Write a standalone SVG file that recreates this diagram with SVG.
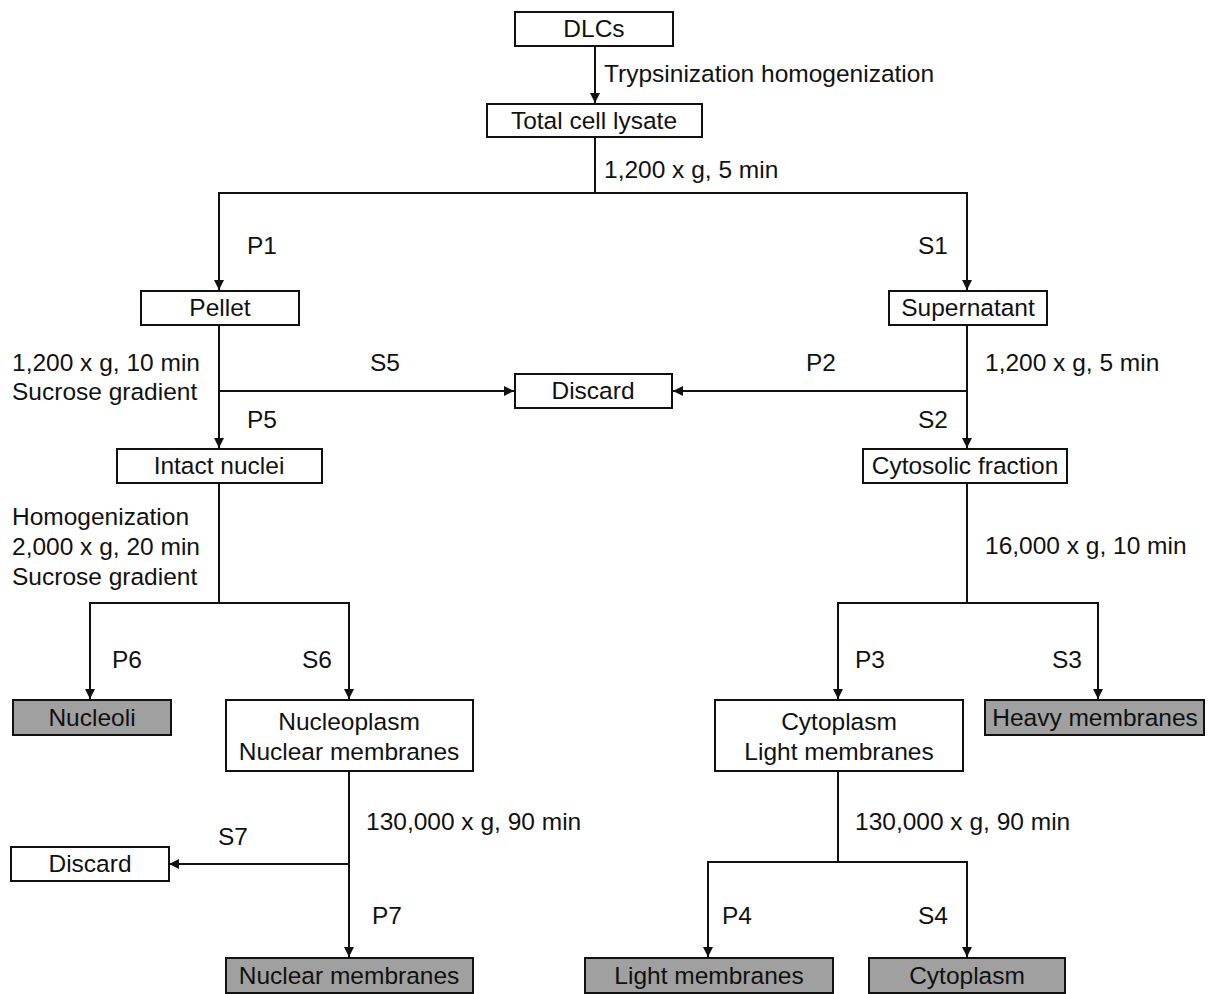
<svg xmlns="http://www.w3.org/2000/svg" width="1208" height="994" viewBox="0 0 1208 994">
<style>
text{font-family:"Liberation Sans",Arial,sans-serif;font-size:24.5px;fill:#111}
.c{text-anchor:middle}
.box{fill:#fff;stroke:#111;stroke-width:2}
.g{fill:#a0a0a0;stroke:#111;stroke-width:2}
.ln{fill:none;stroke:#111;stroke-width:2}
</style>
<defs>
<marker id="ah" viewBox="0 0 10 10" refX="10" refY="5" markerWidth="10" markerHeight="10" markerUnits="userSpaceOnUse" orient="auto">
<path d="M0,0 L10,5 L0,10 z" fill="#111"/>
</marker>
</defs>
<g id="connectors">
<line class="ln" x1="595" y1="46" x2="595" y2="103" marker-end="url(#ah)"/>
<polyline class="ln" points="595,137 595,193"/>
<polyline class="ln" points="595,193 219,193 219,290" marker-end="url(#ah)"/>
<polyline class="ln" points="595,193 967,193 967,290" marker-end="url(#ah)"/>
<line class="ln" x1="219" y1="325" x2="219" y2="448" marker-end="url(#ah)"/>
<line class="ln" x1="219" y1="391" x2="514" y2="391" marker-end="url(#ah)"/>
<line class="ln" x1="967" y1="325" x2="967" y2="448" marker-end="url(#ah)"/>
<line class="ln" x1="967" y1="391" x2="673" y2="391" marker-end="url(#ah)"/>
<polyline class="ln" points="219,483 219,603"/>
<polyline class="ln" points="219,603 90,603 90,699" marker-end="url(#ah)"/>
<polyline class="ln" points="219,603 349,603 349,699" marker-end="url(#ah)"/>
<polyline class="ln" points="967,483 967,603"/>
<polyline class="ln" points="967,603 838,603 838,699" marker-end="url(#ah)"/>
<polyline class="ln" points="967,603 1098,603 1098,699" marker-end="url(#ah)"/>
<line class="ln" x1="349" y1="771" x2="349" y2="957" marker-end="url(#ah)"/>
<line class="ln" x1="349" y1="864" x2="169" y2="864" marker-end="url(#ah)"/>
<polyline class="ln" points="838,771 838,862"/>
<polyline class="ln" points="838,862 708,862 708,957" marker-end="url(#ah)"/>
<polyline class="ln" points="838,862 967,862 967,957" marker-end="url(#ah)"/>
</g>
<g id="labels">
<text x="604" y="82">Trypsinization homogenization</text>
<text x="604" y="178">1,200 x g, 5 min</text>
<text x="247" y="254">P1</text>
<text x="918" y="254">S1</text>
<text x="12" y="371">1,200 x g, 10 min</text>
<text x="12" y="400">Sucrose gradient</text>
<text x="370" y="371">S5</text>
<text x="806" y="371">P2</text>
<text x="985" y="371">1,200 x g, 5 min</text>
<text x="247" y="428">P5</text>
<text x="918" y="428">S2</text>
<text x="12" y="525">Homogenization</text>
<text x="12" y="555">2,000 x g, 20 min</text>
<text x="12" y="585">Sucrose gradient</text>
<text x="985" y="554">16,000 x g, 10 min</text>
<text x="112" y="668">P6</text>
<text x="302" y="668">S6</text>
<text x="855" y="668">P3</text>
<text x="1052" y="668">S3</text>
<text x="366" y="830">130,000 x g, 90 min</text>
<text x="855" y="830">130,000 x g, 90 min</text>
<text x="218" y="845">S7</text>
<text x="372" y="924">P7</text>
<text x="722" y="924">P4</text>
<text x="918" y="924">S4</text>
</g>
<g id="dlcs"><rect class="box" x="515" y="12" width="158" height="34"/><text class="c" x="594" y="37">DLCs</text></g>
<g id="lysate"><rect class="box" x="487" y="104" width="215" height="33"/><text class="c" x="594" y="129">Total cell lysate</text></g>
<g id="pellet"><rect class="box" x="141" y="291" width="158" height="34"/><text class="c" x="220" y="316">Pellet</text></g>
<g id="supernatant"><rect class="box" x="889" y="291" width="158" height="34"/><text class="c" x="968" y="316">Supernatant</text></g>
<g id="discard1"><rect class="box" x="515" y="374" width="157" height="34"/><text class="c" x="593" y="399">Discard</text></g>
<g id="nuclei"><rect class="box" x="117" y="449" width="205" height="34"/><text class="c" x="219" y="474">Intact nuclei</text></g>
<g id="cytosolic"><rect class="box" x="863" y="449" width="204" height="34"/><text class="c" x="965" y="474">Cytosolic fraction</text></g>
<g id="nucleoli"><rect class="g" x="13" y="700" width="158" height="35"/><text class="c" x="92" y="726">Nucleoli</text></g>
<g id="nucleoplasm"><rect class="box" x="226" y="700" width="247" height="71"/><text class="c" x="349" y="730">Nucleoplasm</text><text class="c" x="349" y="760">Nuclear membranes</text></g>
<g id="cytoplasm-light"><rect class="box" x="715" y="700" width="248" height="71"/><text class="c" x="839" y="730">Cytoplasm</text><text class="c" x="839" y="760">Light membranes</text></g>
<g id="heavy"><rect class="g" x="985" y="700" width="219" height="35"/><text class="c" x="1095" y="726">Heavy membranes</text></g>
<g id="discard2"><rect class="box" x="11" y="847" width="158" height="34"/><text class="c" x="90" y="872">Discard</text></g>
<g id="nuclear-membranes"><rect class="g" x="226" y="958" width="247" height="35"/><text class="c" x="349" y="984">Nuclear membranes</text></g>
<g id="light-membranes"><rect class="g" x="585" y="958" width="248" height="35"/><text class="c" x="709" y="984">Light membranes</text></g>
<g id="cytoplasm"><rect class="g" x="869" y="958" width="196" height="35"/><text class="c" x="967" y="984">Cytoplasm</text></g>
</svg>
